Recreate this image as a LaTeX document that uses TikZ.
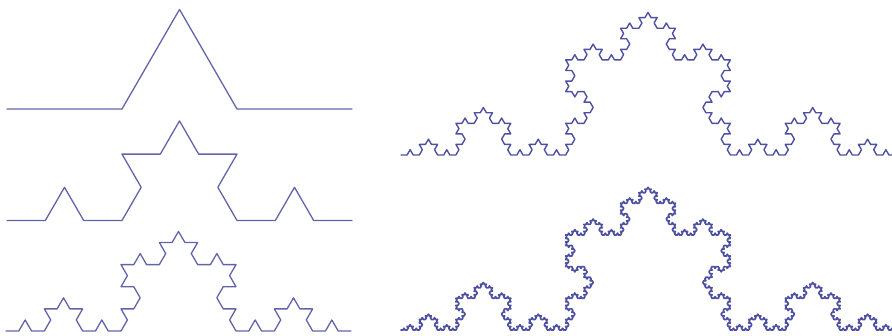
\documentclass[tikz,border=0pt]{standalone}
\usetikzlibrary{lindenmayersystems}
\definecolor{kochblue}{RGB}{98,100,170}
\definecolor{kochdark}{RGB}{78,80,160}
\pgfdeclarelindenmayersystem{Koch}{\rule{F -> F+F--F+F}}
\begin{document}
\begin{tikzpicture}[x=1pt,y=1pt,
  kochline/.style={draw=kochblue,line width=1.3pt,line join=round,line cap=round}]
\useasboundingbox (0,0) rectangle (892,335);
\clip (0,0) rectangle (892,335);
\draw[kochline,shift={(7,226)},l-system={Koch,axiom=F,order=1,step=115pt,angle=60}] l-system;
\draw[kochline,shift={(7,114.5)},l-system={Koch,axiom=F,order=2,step=38.333pt,angle=60}] l-system;
\draw[kochline,shift={(6,4)},l-system={Koch,axiom=F,order=3,step=12.778pt,angle=60}] l-system;
\draw[kochline,draw=kochdark,line width=1.4pt,shift={(401,180)},l-system={Koch,axiom=F,order=4,step=6.099pt,angle=60}] l-system;
\draw[kochline,draw=kochdark,line width=1.7pt,shift={(401,5)},l-system={Koch,axiom=F,order=5,step=2.033pt,angle=60}] l-system;
\end{tikzpicture}
\end{document}
